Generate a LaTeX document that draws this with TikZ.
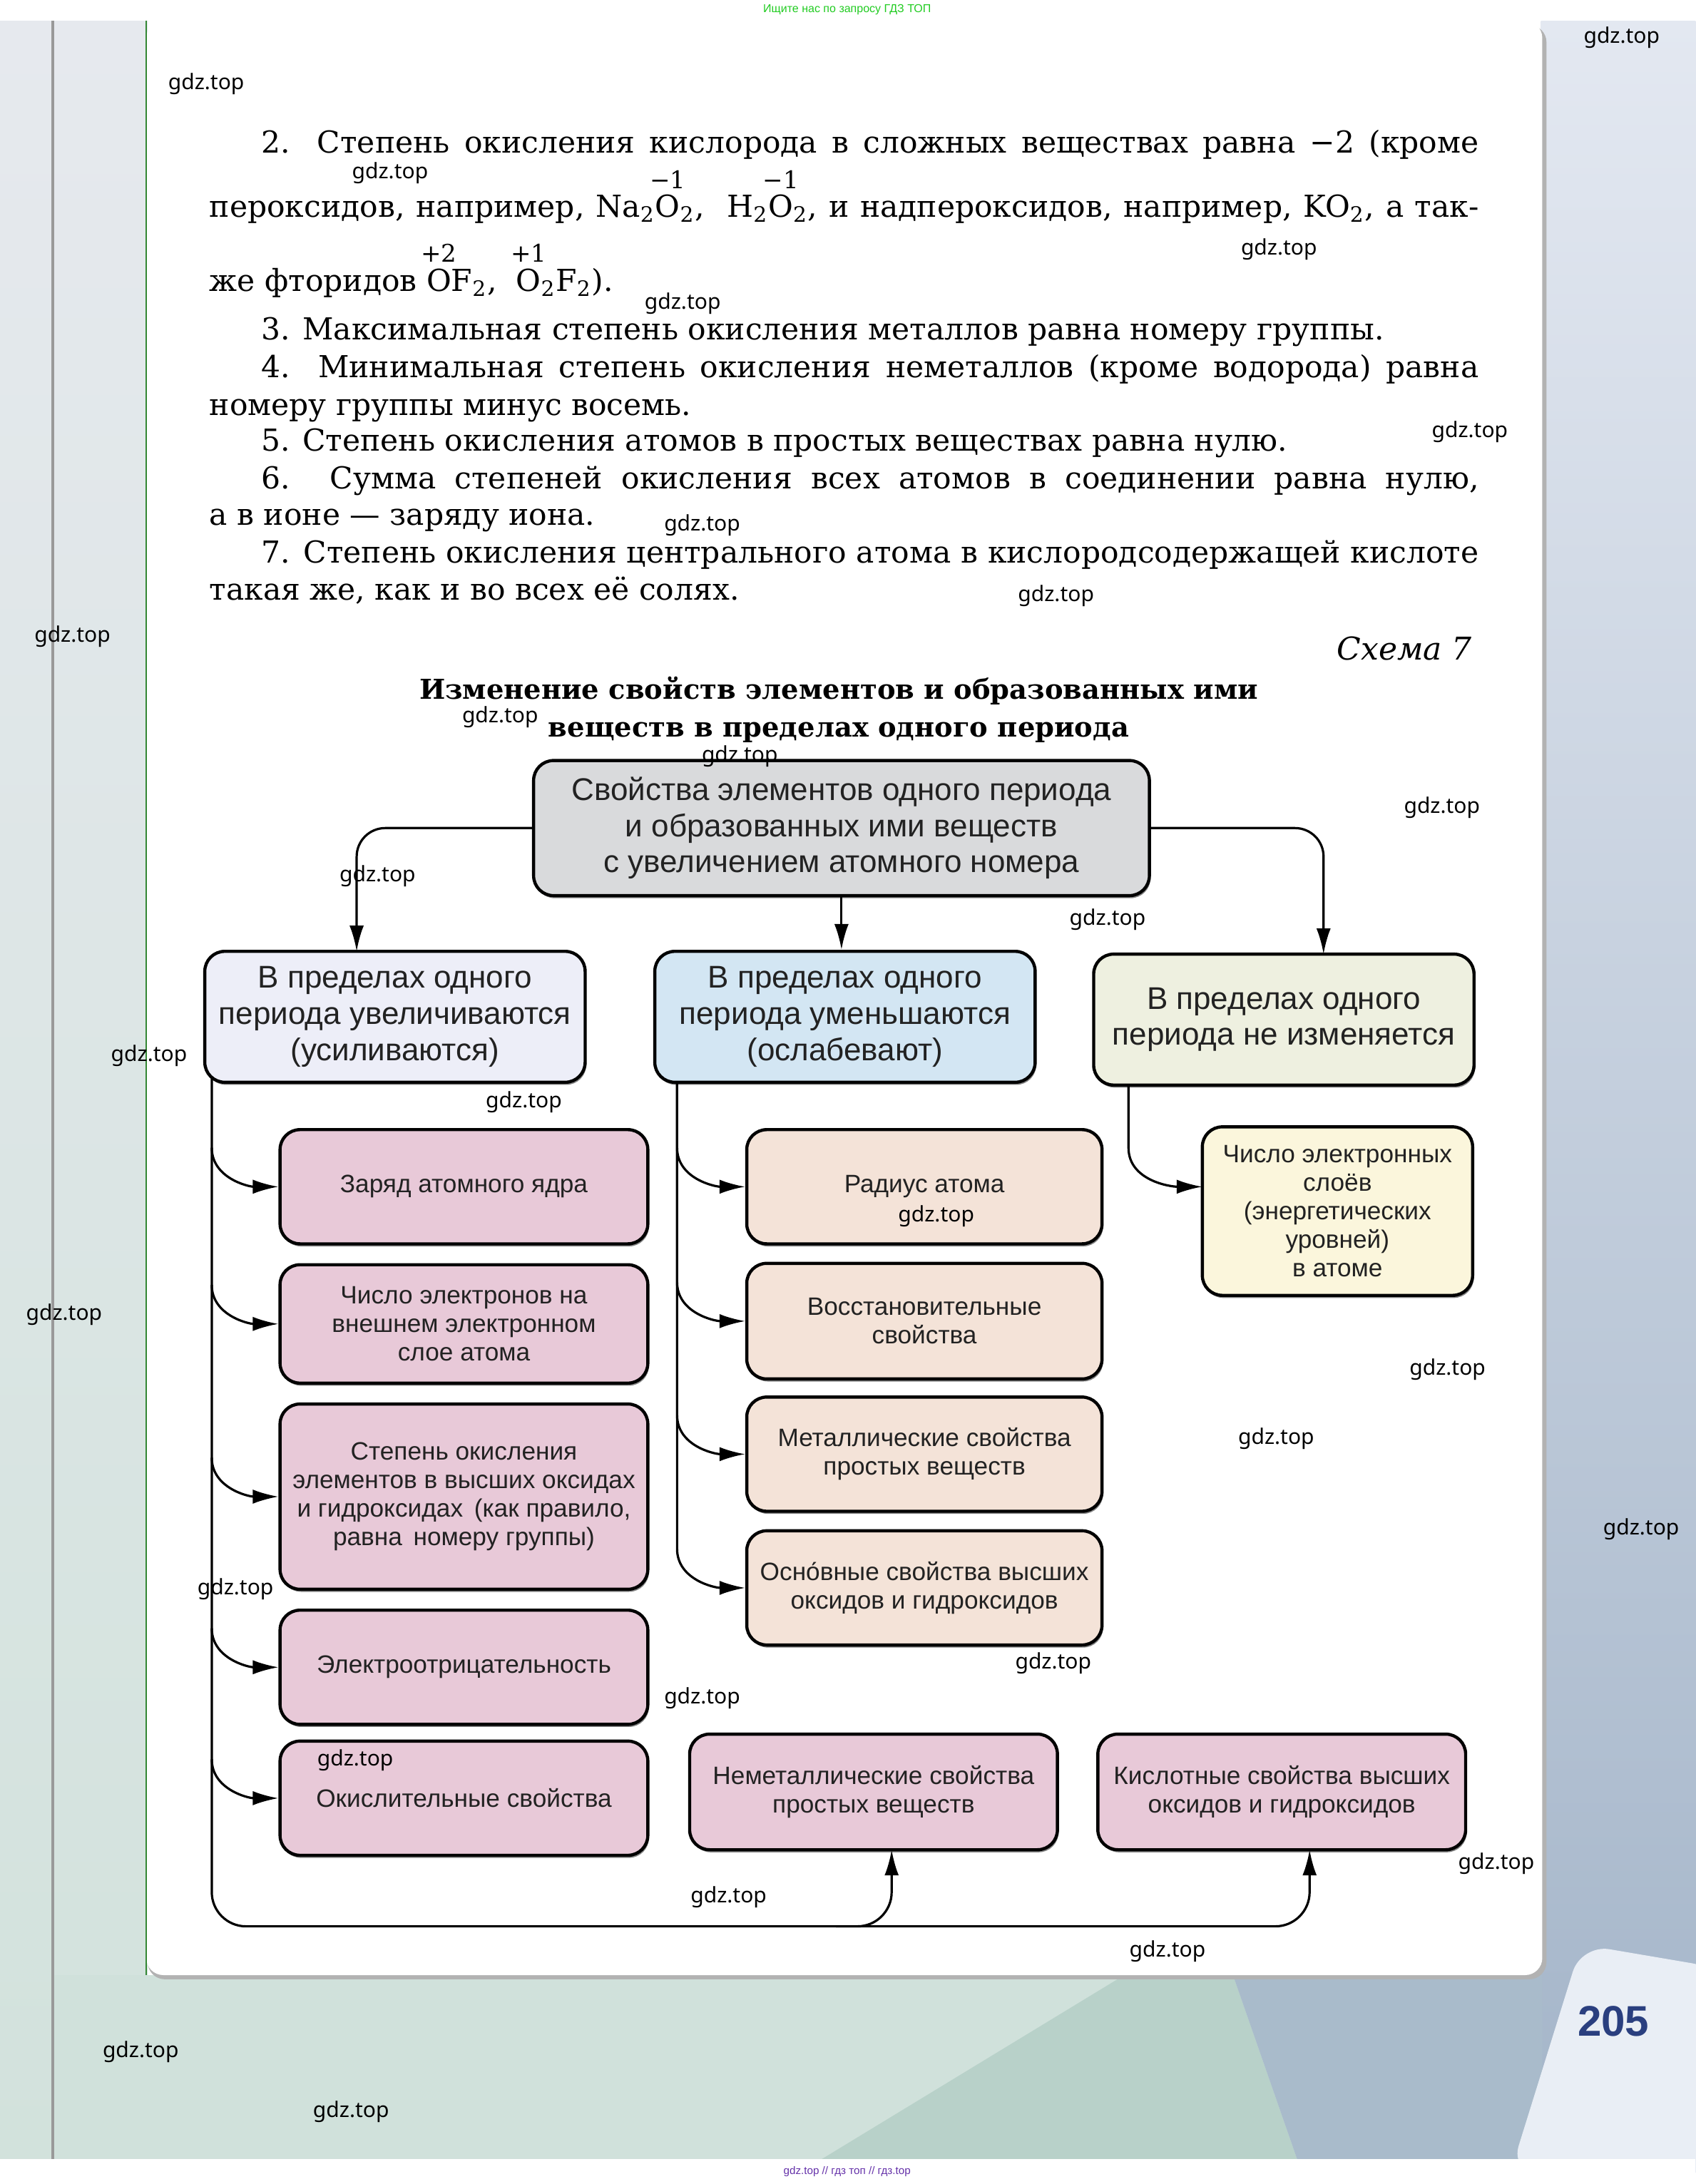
\documentclass[tikz,border=0pt]{standalone}
\usepackage{fontspec}
\setmainfont{DejaVu Serif}
\newfontfamily\dsans{Liberation Sans}
\newfontfamily\wmfont{Noto Sans}
\usetikzlibrary{arrows.meta,calc,shadows}
\definecolor{topfill}{HTML}{D9DADC}
\definecolor{bonefill}{HTML}{EDEEF8}
\definecolor{btwofill}{HTML}{D3E6F3}
\definecolor{bthreefill}{HTML}{EEF0E0}
\definecolor{pinkfill}{HTML}{E8C9D8}
\definecolor{beigefill}{HTML}{F4E3D8}
\definecolor{creamfill}{HTML}{FBF6DC}
\definecolor{lefttop}{HTML}{E6E9EE}
\definecolor{leftbot}{HTML}{D2E2DC}
\definecolor{righttop}{HTML}{E3E8F1}
\definecolor{rightbot}{HTML}{A4B5C9}
\definecolor{bgreen}{HTML}{D0E1DB}
\definecolor{bband}{HTML}{B8D1C9}
\definecolor{bblue}{HTML}{A9BBCB}
\definecolor{pwhite}{HTML}{E9EEF5}
\definecolor{pnum}{HTML}{2A3F7F}
\definecolor{toptxt}{HTML}{22CC22}
\definecolor{bottxt}{HTML}{6633AA}
\definecolor{boxtxt}{HTML}{222222}
\newcommand\oxs[2]{\leavevmode\setbox0=\hbox{#2}\rlap{\raisebox{0.95em}[0pt][0pt]{\makebox[\wd0][c]{\fontsize{8.5}{8.5}\selectfont #1}}}\box0}
\begin{document}
\begin{tikzpicture}[x=0.488pt,y=-0.488pt,
  rect/.style args={#1/#2/#3/#4}{minimum width={(#3-#1)*0.488pt}, minimum height={(#4-#2)*0.488pt}, at={({(#1+#3)/2},{(#2+#4)/2})}},
  box/.style={draw=black, line width=1.1pt, rounded corners=7pt, inner sep=0pt, align=center, text=boxtxt,
    drop shadow={shadow xshift=0.4pt, shadow yshift=-0.9pt, fill=black!80, opacity=0.6}},
  bigbox/.style={box, font=\dsans\fontsize{11}{12.7}\selectfont},
  smallbox/.style={box, font=\dsans\fontsize{8.8}{10}\selectfont},
  arr/.style={-{Latex[length=9pt,width=5pt]}, line width=0.8pt},
  body/.style={inner sep=0pt, anchor=base west, font=\fontsize{10.6}{13}\selectfont},
  wm/.style={inner sep=0pt, font=\wmfont\fontsize{7.5}{9}\selectfont, text=black}]
\useasboundingbox (0,0) rectangle (1217,1568);
% ---------- background ----------
\fill[white] (0,0) rectangle (1217,1568);
\shade[top color=lefttop, bottom color=leftbot] (0,15) rectangle (106,1550);
\shade[top color=righttop, bottom color=rightbot] (1106,15) rectangle (1217,1550);
\fill[bgreen] (38,1418) rectangle (1107,1550);
\fill[bband] (807,1418) -- (885,1418) -- (931,1550) -- (590,1550) -- cycle;
\fill[bblue] (885,1418) -- (1107,1418) -- (1107,1550) -- (931,1550) -- cycle;
\fill[black!30, rounded corners=6pt] (106,18) rectangle (1110,1421);
\fill[white, rounded corners=6pt] (105,15) rectangle (1107,1418);
\draw[black!45!green!60!gray, line width=0.6pt] (105,15) -- (105,1418);
\fill[pwhite, rounded corners=10pt] (1135,1396) -- (1235,1413) -- (1235,1560) -- (1084,1560) -- cycle;
\draw[gray!80, line width=0.9pt] (38,15) -- (38,1550);
\fill[white] (0,0) rectangle (1217,15);
\fill[white] (0,1550) rectangle (1217,1568);
\node[inner sep=0pt, font=\dsans\fontsize{4}{4}\selectfont, text=toptxt] (hdr) at (608,7) {Ищите нас по запросу ГДЗ ТОП};
\node[inner sep=0pt, font=\dsans\fontsize{3.8}{4}\selectfont, text=bottxt] (ftr) at (608,1559) {gdz.top // гдз топ // гдз.top};
\node[inner sep=0pt, font=\dsans\bfseries\fontsize{15}{15}\selectfont, text=pnum] (pn) at (1158,1451) {205};
% ---------- body text ----------
\node[body] (l1) at (187,110) {\makebox[426.5pt][s]{2. Степень окисления кислорода в сложных веществах равна −2 (кроме}};
\node[body] (l2) at (150,156) {\makebox[444.6pt][s]{пероксидов, например, Na\textsubscript{2}\oxs{−1}{O}\textsubscript{2}, \ H\textsubscript{2}\oxs{−1}{O}\textsubscript{2}, и надпероксидов, например, KO\textsubscript{2}, а так-}};
\node[body] (l3) at (150,209) {же фторидов \oxs{+2}{O}F\textsubscript{2}, \ \oxs{+1}{O}\textsubscript{2}F\textsubscript{2}).};
\node[body] (l4) at (187,244) {3. Максимальная степень окисления металлов равна номеру группы.};
\node[body] (l5) at (187,271) {\makebox[426.5pt][s]{4. Минимальная степень окисления неметаллов (кроме водорода) равна}};
\node[body] (l6) at (150,298) {номеру группы минус восемь.};
\node[body] (l7) at (187,324) {5. Степень окисления атомов в простых веществах равна нулю.};
\node[body] (l8) at (187,351) {\makebox[426.5pt][s]{6. Сумма степеней окисления всех атомов в соединении равна нулю,}};
\node[body] (l9) at (150,377) {а в ионе — заряду иона.};
\node[body] (l10) at (187,404) {\makebox[426.5pt][s]{7. Степень окисления центрального атома в кислородсодержащей кислоте}};
\node[body] (l11) at (150,431) {такая же, как и во всех её солях.};
\node[inner sep=0pt, anchor=base east, font=\itshape\fontsize{11}{13}\selectfont] (schema) at (1057,474) {Схема 7};
\node[inner sep=0pt, anchor=base, font=\bfseries\fontsize{9.6}{13}\selectfont] (t1l) at (602,502) {Изменение свойств элементов и образованных ими};
\node[inner sep=0pt, anchor=base, font=\bfseries\fontsize{9.6}{13}\selectfont] (t2l) at (602,529) {веществ в пределах одного периода};
% ---------- boxes ----------
\node[bigbox, fill=topfill, rect=383/546/825/643] (top) {Свойства элементов одного периода\\и образованных ими веществ\\с увеличением атомного номера};
\node[bigbox, fill=bonefill, rect=147/683/420/777] (B1) {В пределах одного\\периода увеличиваются\\(усиливаются)};
\node[bigbox, fill=btwofill, rect=470/683/743/777] (B2) {В пределах одного\\периода уменьшаются\\(ослабевают)};
\node[bigbox, fill=bthreefill, rect=785/685/1058/779] (B3) {В пределах одного\\периода не изменяется};
\node[smallbox, fill=pinkfill, rect=201/811/465/893] (P1) {Заряд атомного ядра};
\node[smallbox, fill=pinkfill, rect=201/908/465/993] (P2) {Число электронов на\\внешнем электронном\\слое атома};
\node[smallbox, fill=pinkfill, rect=201/1008/465/1141] (P3) {Степень окисления\\элементов в высших оксидах\\и гидроксидах \,(как правило,\\равна \,номеру группы)};
\node[smallbox, fill=pinkfill, rect=201/1156/465/1238] (P4) {Электроотрицательность};
\node[smallbox, fill=pinkfill, rect=201/1250/465/1332] (P5) {Окислительные свойства};
\node[smallbox, fill=beigefill, rect=536/811/791/893] (M1) {Радиус атома};
\node[smallbox, fill=beigefill, rect=536/907/791/990] (M2) {Восстановительные\\свойства};
\node[smallbox, fill=beigefill, rect=536/1003/791/1085] (M3) {Металлические свойства\\простых веществ};
\node[smallbox, fill=beigefill, rect=536/1099/791/1181] (M4) {Осно́вные свойства высших\\оксидов и гидроксидов};
\node[smallbox, fill=creamfill, rect=863/809/1057/930] (R1) {Число электронных\\слоёв\\(энергетических\\уровней)\\в атоме};
\node[smallbox, fill=pinkfill, rect=495/1245/759/1328] (N1) {Неметаллические свойства\\простых веществ};
\node[smallbox, fill=pinkfill, rect=788/1245/1052/1328] (N2) {Кислотные свойства высших\\оксидов и гидроксидов};
% ---------- connectors ----------
\coordinate (a1) at (256,683);
\coordinate (a3) at (950,685);
\coordinate (t1) at (152,774);
\coordinate (t2) at (486,777);
\coordinate (t3) at (810,779);
\coordinate (k1) at (600,1383);
\coordinate (k2) at (940,1383);
\coordinate (n1in) at (640,1328);
\coordinate (n2in) at (940,1328);
\coordinate (r1in) at (863,852);
\draw[arr, rounded corners=10pt] (top.west) -| (a1);
\draw[arr] (top.south) -- (top.south |- B2.north);
\draw[arr, rounded corners=10pt] (top.east) -| (a3);
\draw[arr, rounded corners=12pt] (t1) |- (k2) -- (n2in);
\draw[arr, rounded corners=12pt] (k1) -| (n1in);
\foreach \b in {P1,P2,P3,P4,P5}
  \draw[arr] ($(t1|-\b.west)+(0,-28)$) to[out=-90,in=180] (\b.west);
\foreach \b in {M1,M2,M3,M4}
  \draw[arr] (t2) -- ($(t2|-\b.west)+(0,-28)$) to[out=-90,in=180] (\b.west);
\draw[arr] (t3) -- ($(t3|-r1in)+(0,-28)$) to[out=-90,in=180] (r1in);
% ---------- watermarks ----------
\foreach \x/\y [count=\i] in {148/60,280/124,1164/27,918/179,490/218,1055/310,504/377,52/457,758/428,359/515,531/543,1035/580,271/629,795/660,107/758,376/791,672/873,46/944,1039/983,916/1033,1178/1098,169/1141,756/1194,504/1219,255/1264,1074/1338,523/1362,838/1401,101/1473,252/1516}
  \node[wm] (wm\i) at (\x,\y) {gdz.top};
\end{tikzpicture}
\end{document}
